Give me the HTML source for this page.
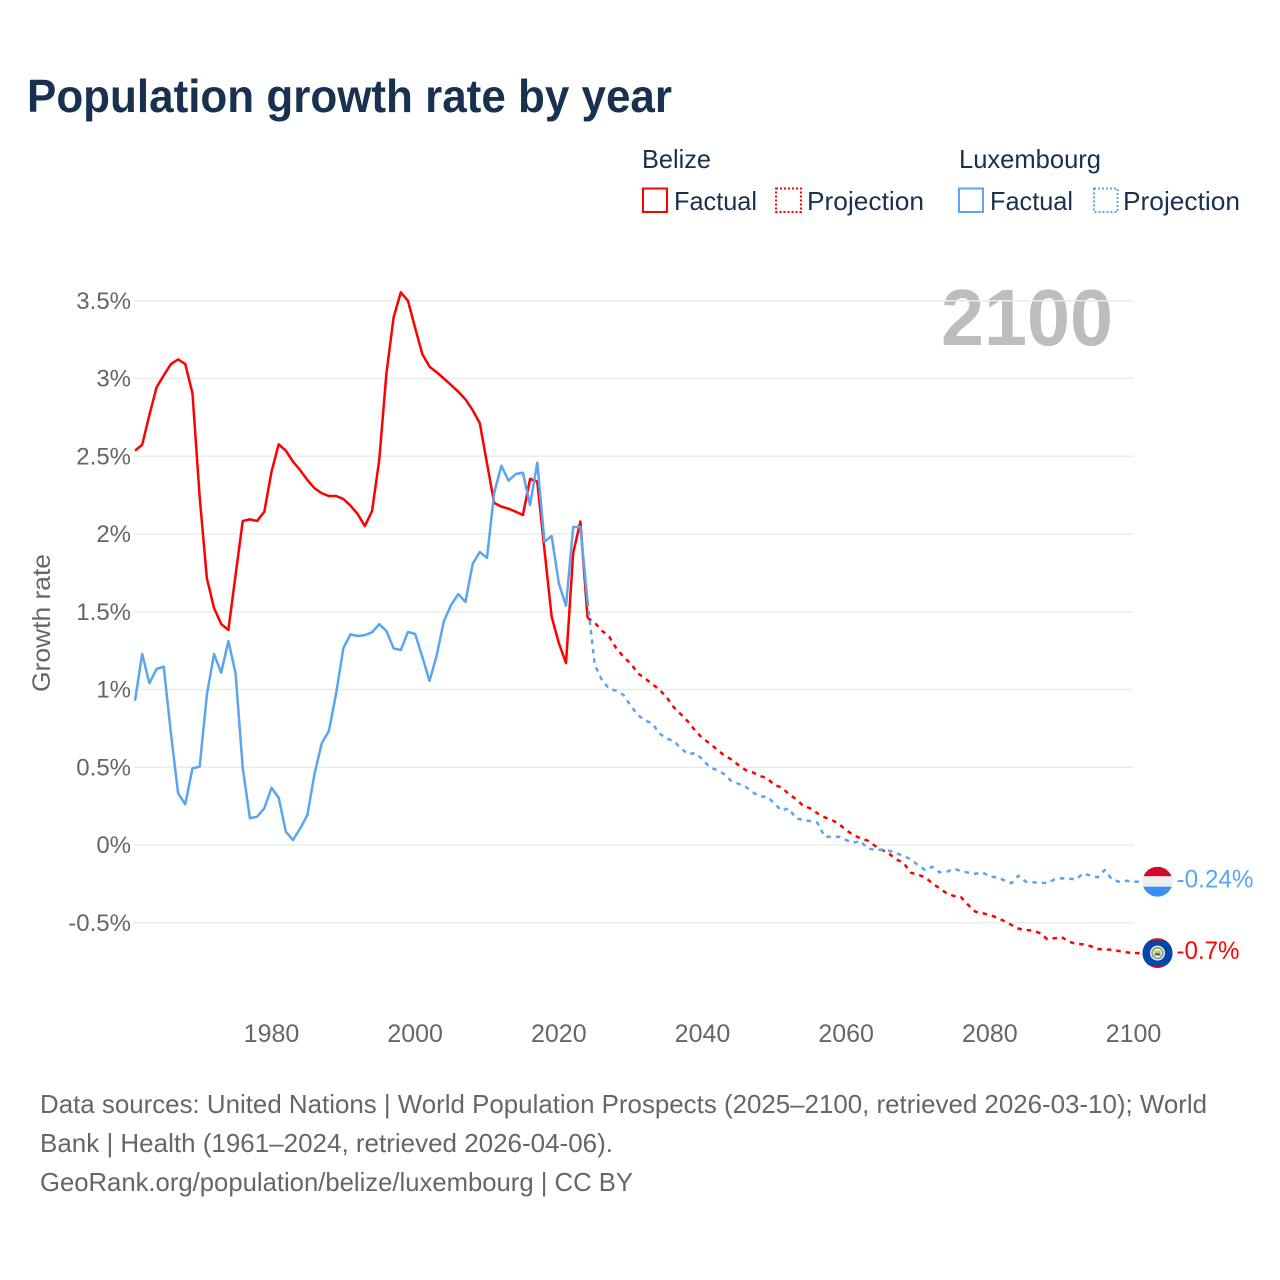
<!DOCTYPE html>
<html lang="en">
<head>
<meta charset="utf-8">
<title>Population growth rate by year</title>
<style>
html,body{margin:0;padding:0;background:#fff;}
svg{display:block;font-family:"Liberation Sans",sans-serif;}
</style>
</head>
<body>
<svg id="chart" xmlns="http://www.w3.org/2000/svg" width="1280" height="1280" viewBox="0 0 1280 1280">
  <rect x="0" y="0" width="1280" height="1280" fill="#fff"/>
  <text x="27" y="112" font-size="46" font-weight="700" fill="#17314f" textLength="645" lengthAdjust="spacingAndGlyphs">Population growth rate by year</text>

  <g font-size="26" fill="#17314f">
    <text x="642" y="168" textLength="69" lengthAdjust="spacingAndGlyphs">Belize</text>
    <text x="959" y="168" textLength="142" lengthAdjust="spacingAndGlyphs">Luxembourg</text>
    <g>
      <rect x="643" y="188.5" width="24" height="23.5" fill="none" stroke="#ff0000" stroke-width="2"/>
      <text x="674" y="210" textLength="83" lengthAdjust="spacingAndGlyphs">Factual</text>
    </g>
    <g>
      <rect x="776" y="188.5" width="25" height="23.5" fill="none" stroke="#ff0000" stroke-width="2" stroke-dasharray="2 2"/>
      <text x="807" y="210" textLength="117" lengthAdjust="spacingAndGlyphs">Projection</text>
    </g>
    <g>
      <rect x="959" y="188.5" width="24" height="23.5" fill="none" stroke="#5ba5ee" stroke-width="2"/>
      <text x="990" y="210" textLength="83" lengthAdjust="spacingAndGlyphs">Factual</text>
    </g>
    <g>
      <rect x="1094" y="188.5" width="23.5" height="23.5" fill="none" stroke="#5ba5ee" stroke-width="2" stroke-dasharray="2 2"/>
      <text x="1123" y="210" textLength="117" lengthAdjust="spacingAndGlyphs">Projection</text>
    </g>
  </g>

  <text transform="translate(50,623) rotate(-90)" text-anchor="middle" font-size="25" fill="#666" textLength="138" lengthAdjust="spacingAndGlyphs">Growth rate</text>
  <text x="941" y="345" font-size="80" font-weight="700" fill="#bdbdbd" textLength="172" lengthAdjust="spacingAndGlyphs">2100</text>

  <g id="grid"></g>
  <g id="yticks" font-size="24" fill="#666" text-anchor="end"></g>
  <g id="xticks" font-size="25" fill="#666" text-anchor="middle"></g>
  <g id="series" fill="none" stroke-width="2.5" stroke-linejoin="round"></g>

  <g id="flag-lux">
    <clipPath id="clip-lux"><circle cx="0" cy="0" r="15"/></clipPath>
    <g clip-path="url(#clip-lux)">
      <rect x="-15" y="-15" width="30" height="10" fill="#cf0a2c"/>
      <rect x="-15" y="-5.5" width="30" height="11" fill="#eeeeee"/>
      <rect x="-15" y="5" width="30" height="10" fill="#3a8ef6"/>
    </g>
  </g>
  <g id="flag-belize">
    <clipPath id="clip-belize"><circle cx="0" cy="0" r="15"/></clipPath>
    <g clip-path="url(#clip-belize)">
      <rect x="-15" y="-15" width="30" height="30" fill="#c8102e"/>
      <rect x="-15" y="-12.5" width="30" height="25" fill="#0047ab"/>
      <circle cx="0" cy="0" r="7.5" fill="#f3f3f3"/>
      <circle cx="0" cy="0" r="5.4" fill="none" stroke="#7fa36a" stroke-width="1.6"/>
      <rect x="-3" y="-2.5" width="6" height="2.5" fill="#e8b93c"/>
      <rect x="-3" y="0" width="6" height="2.5" fill="#3f6fb5"/>
    </g>
  </g>
  <g id="endlabels" font-size="25"></g>

  <g font-size="26" fill="#666">
    <text x="40" y="1113" textLength="1167" lengthAdjust="spacingAndGlyphs">Data sources: United Nations | World Population Prospects (2025–2100, retrieved 2026-03-10); World</text>
    <text x="40" y="1152" textLength="573" lengthAdjust="spacingAndGlyphs">Bank | Health (1961–2024, retrieved 2026-04-06).</text>
    <text x="40" y="1191" textLength="593" lengthAdjust="spacingAndGlyphs">GeoRank.org/population/belize/luxembourg | CC BY</text>
  </g>
</svg>

<script>
// ---- chart data (percent per year) ----
const factualStartYear = 1961;
const projectionStartYear = 2024;
const belizeFactual = [2.536,2.574,2.765,2.943,3.02,3.093,3.123,3.093,2.905,2.24,1.717,1.524,1.421,1.383,1.736,2.084,2.094,2.084,2.143,2.40,2.577,2.536,2.465,2.41,2.347,2.294,2.262,2.244,2.244,2.225,2.182,2.128,2.051,2.148,2.476,3.033,3.393,3.554,3.50,3.325,3.157,3.076,3.04,3.00,2.958,2.915,2.866,2.797,2.712,2.455,2.20,2.176,2.163,2.143,2.122,2.354,2.337,1.897,1.468,1.299,1.17,1.878,2.08,1.46];
const luxembourgFactual = [0.928,1.23,1.04,1.132,1.147,0.718,0.332,0.262,0.493,0.504,0.965,1.228,1.108,1.312,1.104,0.493,0.172,0.182,0.236,0.368,0.304,0.086,0.032,0.107,0.193,0.461,0.654,0.735,0.975,1.265,1.355,1.344,1.35,1.368,1.42,1.376,1.264,1.254,1.37,1.357,1.21,1.055,1.22,1.44,1.543,1.614,1.563,1.807,1.884,1.846,2.264,2.439,2.343,2.386,2.394,2.186,2.459,1.95,1.987,1.684,1.539,2.045,2.045,1.565];
const belizeProjection = [1.46,1.43,1.378,1.34,1.265,1.21,1.168,1.104,1.072,1.035,1.00,0.95,0.886,0.84,0.793,0.735,0.686,0.654,0.615,0.577,0.551,0.514,0.482,0.467,0.444,0.429,0.386,0.371,0.328,0.296,0.253,0.236,0.204,0.178,0.161,0.135,0.096,0.064,0.043,0.028,-0.005,-0.032,-0.058,-0.092,-0.116,-0.178,-0.191,-0.208,-0.246,-0.279,-0.311,-0.328,-0.336,-0.386,-0.429,-0.439,-0.45,-0.467,-0.489,-0.514,-0.538,-0.547,-0.549,-0.568,-0.606,-0.60,-0.592,-0.622,-0.635,-0.639,-0.65,-0.669,-0.673,-0.673,-0.682,-0.69,-0.695];
const luxembourgProjection = [1.565,1.158,1.061,1.005,0.992,0.965,0.896,0.836,0.80,0.783,0.718,0.684,0.669,0.622,0.583,0.592,0.551,0.50,0.482,0.457,0.412,0.394,0.375,0.339,0.311,0.311,0.268,0.221,0.236,0.172,0.161,0.154,0.143,0.053,0.053,0.053,0.032,0.015,0.026,-0.024,-0.028,-0.032,-0.037,-0.053,-0.071,-0.092,-0.129,-0.161,-0.14,-0.176,-0.172,-0.154,-0.167,-0.178,-0.185,-0.176,-0.204,-0.208,-0.227,-0.246,-0.197,-0.236,-0.24,-0.242,-0.246,-0.221,-0.214,-0.217,-0.221,-0.182,-0.197,-0.208,-0.161,-0.221,-0.236,-0.23,-0.236];
const yTickValues = [3.5,3,2.5,2,1.5,1,0.5,0,-0.5];
const yTickLabels = ["3.5%","3%","2.5%","2%","1.5%","1%","0.5%","0%","-0.5%"];
const xTickYears = [1980,2000,2020,2040,2060,2080,2100];
const endLabels = ["-0.24%","-0.7%"];

// ---- axis functions ----
function xScale(year){ return 135 + (year - 1961) * (998.5 / 139); }
function yScale(value){ return 845 - value * 155.5; }

const NS = "http://www.w3.org/2000/svg";
function make(tag, parent){
  const el = document.createElementNS(NS, tag);
  parent.appendChild(el);
  return el;
}
function pathFrom(values, startYear){
  return values.map(function(v, i){
    return (i ? "L" : "M") + xScale(startYear + i).toFixed(2) + " " + yScale(v).toFixed(2);
  }).join(" ");
}

// gridlines and y ticks
const grid = document.getElementById("grid");
const yticks = document.getElementById("yticks");
yTickValues.forEach(function(v, i){
  const line = make("line", grid);
  
  
  line.setAttribute("x1", 134);
  line.setAttribute("x2", xScale(2100));
  line.setAttribute("y1", yScale(v));
  line.setAttribute("y2", yScale(v));
  line.setAttribute("stroke", "#ebebeb");
  line.setAttribute("stroke-width", "1.5");
  const label = make("text", yticks);
  
  
  label.setAttribute("x", 131);
  label.setAttribute("y", yScale(v) + 8);
  label.textContent = yTickLabels[i];
});

// x ticks
const xticks = document.getElementById("xticks");
xTickYears.forEach(function(year){
  const label = make("text", xticks);
  
  
  label.setAttribute("x", xScale(year));
  label.setAttribute("y", 1042);
  label.textContent = String(year);
});

// series
const series = document.getElementById("series");

const belizeFactualLine = make("path", series);


belizeFactualLine.setAttribute("d", pathFrom(belizeFactual, factualStartYear));
belizeFactualLine.setAttribute("stroke", "#ff0000");

const belizeProjectionLine = make("path", series);


belizeProjectionLine.setAttribute("d", pathFrom(belizeProjection, projectionStartYear) + " h6.5");
belizeProjectionLine.setAttribute("stroke", "#ff0000");
belizeProjectionLine.setAttribute("stroke-dasharray", "4.5 5");

const luxFactualLine = make("path", series);


luxFactualLine.setAttribute("d", pathFrom(luxembourgFactual, factualStartYear));
luxFactualLine.setAttribute("stroke", "#5ba5ee");

const luxProjectionLine = make("path", series);


luxProjectionLine.setAttribute("d", pathFrom(luxembourgProjection, projectionStartYear) + " h6.5");
luxProjectionLine.setAttribute("stroke", "#5ba5ee");
luxProjectionLine.setAttribute("stroke-dasharray", "4.5 5");

// end markers and labels
const luxEndY = yScale(luxembourgProjection[luxembourgProjection.length - 1]);
const belizeEndY = yScale(belizeProjection[belizeProjection.length - 1]);
const endX = xScale(2100) + 24;
document.getElementById("flag-lux").setAttribute("transform", "translate(" + endX + "," + luxEndY + ")");
document.getElementById("flag-belize").setAttribute("transform", "translate(" + endX + "," + belizeEndY + ")");

const endGroup = document.getElementById("endlabels");

const luxEndLabel = make("text", endGroup);


luxEndLabel.setAttribute("x", endX + 19);
luxEndLabel.setAttribute("y", luxEndY + 6);
luxEndLabel.setAttribute("fill", "#5ba5ee");
luxEndLabel.setAttribute("textLength", "77");
luxEndLabel.setAttribute("lengthAdjust", "spacingAndGlyphs");
luxEndLabel.textContent = endLabels[0];

const belizeEndLabel = make("text", endGroup);


belizeEndLabel.setAttribute("x", endX + 19);
belizeEndLabel.setAttribute("y", belizeEndY + 6);
belizeEndLabel.setAttribute("fill", "#ff0000");
belizeEndLabel.setAttribute("textLength", "63");
belizeEndLabel.setAttribute("lengthAdjust", "spacingAndGlyphs");
belizeEndLabel.textContent = endLabels[1];
</script>
</body>
</html>
